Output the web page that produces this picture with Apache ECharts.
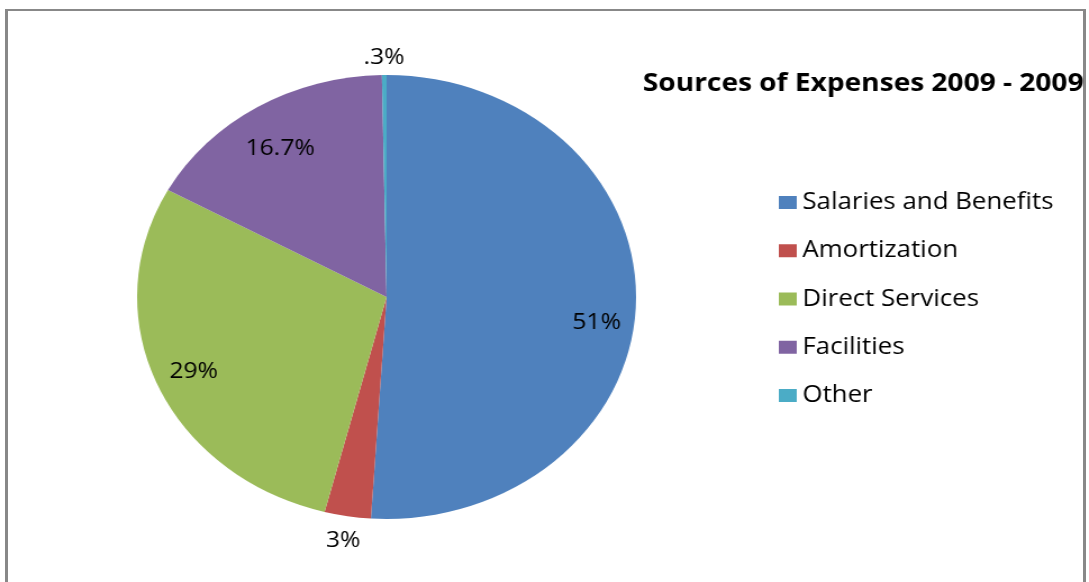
<!DOCTYPE html>
<html>
<head>
<meta charset="utf-8">
<title>Sources of Expenses 2009 - 2009</title>
<script src="https://cdn.jsdelivr.net/npm/echarts@6/dist/echarts.min.js"></script>
<style>
  html, body { margin: 0; padding: 0; background: #ffffff; overflow: hidden; }
  #frame {
    position: absolute; left: 5px; top: 9px; width: 1075px; height: 600px;
    border-left: 3px solid #888888; border-right: 3px solid #888888;
    border-top: 2px solid #888888; border-bottom: none;
  }
  /* the chart is laid out narrower and stretched sideways, giving the oval pie */
  #chart {
    position: absolute; left: 0; top: 0; width: 969px; height: 582px;
    transform: scaleX(1.1238); transform-origin: 0 0;
  }
</style>
</head>
<body>
<div id="frame"></div>
<div id="chart"></div>
<script>
// Expense categories and their shares (percent)
const categories = ['Salaries and Benefits', 'Amortization', 'Direct Services', 'Facilities', 'Other'];
const shares = [51, 3, 29, 16.7, 0.3];
const colors = ['#4F81BD', '#C0504D', '#9BBB59', '#8064A2', '#4BACC6'];
const titleText = 'Sources of Expenses 2009 - 2009';

const FONT = '"Open Sans", "DejaVu Sans", sans-serif';

// small nudges for a few percentage labels
const labelOffsets = {
  'Salaries and Benefits': [0, 20],
  'Facilities': [2, 12],
  'Other': [0, 8]
};

function pctLabel(v) {
  return String(v).replace(/^0\./, '.') + '%';
}

const pieData = categories.map((name, i) => ({
  name: name,
  value: shares[i],
  itemStyle: { color: colors[i] }
}));

// small slices get their label outside the rim, larger ones inside
const isSmall = v => v < 5;

function labelData(showSmall) {
  return categories.map((name, i) => ({
    name: name,
    value: shares[i],
    label: {
      show: isSmall(shares[i]) === showSmall,
      offset: labelOffsets[name] || [0, 0]
    }
  }));
}

const labelSeriesBase = {
  type: 'pie',
  center: [344, 297],
  startAngle: 90,
  silent: true,
  legendHoverLink: false,
  itemStyle: { color: 'rgba(0,0,0,0)', borderWidth: 0 },
  emphasis: { disabled: true },
  labelLine: { show: false },
  label: {
    position: 'inside',
    formatter: p => pctLabel(p.value),
    color: '#000000',
    fontFamily: FONT,
    fontSize: 22
  },
  animation: false,
  z: 5
};

const chart = echarts.init(document.getElementById('chart'), null, { renderer: 'canvas' });

chart.setOption({
  backgroundColor: 'transparent',
  animation: false,
  title: {
    text: titleText,
    left: 572,
    top: 71,
    padding: 0,
    textStyle: {
      fontFamily: FONT,
      fontWeight: 'bold',
      fontSize: 25,
      color: '#000000'
    }
  },
  legend: {
    orient: 'vertical',
    left: 693,
    top: 191,
    padding: 0,
    icon: 'rect',
    itemWidth: 16,
    itemHeight: 13,
    itemGap: 25.25,
    selectedMode: false,
    data: categories,
    textStyle: {
      fontFamily: FONT,
      fontSize: 23,
      lineHeight: 23,
      color: '#000000'
    }
  },
  series: [
    {
      type: 'pie',
      name: 'Expenses',
      center: [344, 297],
      radius: [0, 222],
      startAngle: 90,
      clockwise: true,
      label: { show: false },
      labelLine: { show: false },
      itemStyle: { borderWidth: 0 },
      emphasis: { disabled: true },
      data: pieData
    },
    Object.assign({}, labelSeriesBase, {
      name: 'inner labels',
      radius: [146, 222],
      data: labelData(false)
    }),
    Object.assign({}, labelSeriesBase, {
      name: 'outer labels',
      radius: [222, 266],
      data: labelData(true)
    })
  ]
});
</script>
</body>
</html>
